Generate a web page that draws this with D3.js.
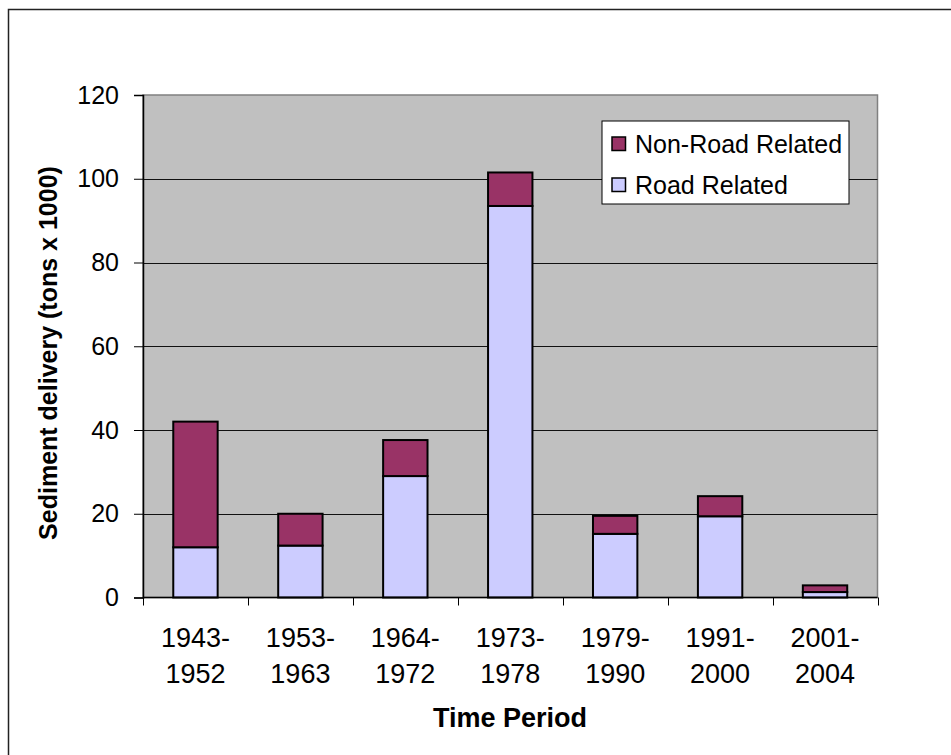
<!DOCTYPE html>
<html>
<head>
<meta charset="utf-8">
<script src="https://cdn.jsdelivr.net/npm/d3@7"></script>
<style>
  html, body { margin: 0; padding: 0; background: #fff; }
  svg { display: block; }
  text { font-family: "Liberation Sans", Arial, sans-serif; fill: #000; }
</style>
</head>
<body>
<svg id="chart" width="951" height="755"></svg>
<script>
// ---- data ----
const categories = [["1943-", "1952"], ["1953-", "1963"], ["1964-", "1972"], ["1973-", "1978"], ["1979-", "1990"], ["1991-", "2000"], ["2001-", "2004"]];
const roadRelated    = [12, 12.4, 29, 93.5, 15.2, 19.4, 1.3];
const nonRoadRelated = [30, 7.6, 8.6, 8, 4.3, 4.8, 1.6];
const yTicks = [0, 20, 40, 60, 80, 100, 120];
const seriesNames = ["Non-Road Related", "Road Related"];
const seriesColors = { "Road Related": "#CCCCFF", "Non-Road Related": "#993366" };

// ---- layout ----
const svg = d3.select("#chart");
const plot = { left: 143, right: 877.5, top: 95, bottom: 597.5 };

// outer border
svg.append("rect")
  .attr("x", 8.5).attr("y", 9.5)
  .attr("width", 1000).attr("height", 1000)
  .attr("fill", "none").attr("stroke", "#222").attr("stroke-width", 1.5);

const keys = categories.map(c => c.join(""));
const x = d3.scaleBand().domain(keys).range([plot.left, plot.right])
  .paddingInner(0.577).paddingOuter(0.577 / 2);
const y = d3.scaleLinear().domain([0, 120]).range([plot.bottom, plot.top]);

// plot background
svg.append("rect")
  .attr("x", plot.left).attr("y", plot.top)
  .attr("width", plot.right - plot.left).attr("height", plot.bottom - plot.top)
  .attr("fill", "#C0C0C0").attr("stroke", "#808080").attr("stroke-width", 1.5);

// gridlines
svg.append("g").selectAll("line")
  .data(yTicks.filter(t => t > 0 && t < 120))
  .join("line")
  .attr("x1", plot.left).attr("x2", plot.right)
  .attr("y1", d => Math.round(y(d)) + 0.5).attr("y2", d => Math.round(y(d)) + 0.5)
  .attr("stroke", "#111").attr("stroke-width", 1);

// stacked data
const rows = keys.map((k, i) => ({ key: k, "Road Related": roadRelated[i], "Non-Road Related": nonRoadRelated[i] }));
const stack = d3.stack().keys(["Road Related", "Non-Road Related"])(rows);

svg.append("g").selectAll("g")
  .data(stack)
  .join("g")
  .attr("fill", d => seriesColors[d.key])
  .selectAll("rect")
  .data(d => d)
  .join("rect")
  .attr("x", d => x(d.data.key))
  .attr("width", x.bandwidth())
  .attr("y", d => y(d[1]))
  .attr("height", d => y(d[0]) - y(d[1]))
  .attr("stroke", "#000").attr("stroke-width", 2);

// y axis
const yAxis = d3.axisLeft(y).tickValues(yTicks).tickSize(9).tickPadding(15).tickFormat(d3.format("d"));
const gy = svg.append("g").attr("transform", `translate(${plot.left},0)`).call(yAxis);
gy.select(".domain").attr("stroke", "#000").attr("stroke-width", 1.5);
gy.selectAll(".tick line").attr("stroke", "#000").attr("stroke-width", 1);
gy.selectAll(".tick text").attr("font-size", 25).attr("font-family", "'Liberation Sans', Arial, sans-serif").attr("fill", "#000");

// x axis line and ticks at band boundaries
svg.append("line")
  .attr("x1", plot.left).attr("x2", plot.right)
  .attr("y1", plot.bottom).attr("y2", plot.bottom)
  .attr("stroke", "#000").attr("stroke-width", 1.5);
const boundaries = keys.map(k => x(k) - x.step() * x.paddingInner() / 2).concat([plot.right]);
svg.append("g").selectAll("line")
  .data(boundaries)
  .join("line")
  .attr("x1", d => Math.round(d) + 0.5).attr("x2", d => Math.round(d) + 0.5)
  .attr("y1", plot.bottom).attr("y2", plot.bottom + 8)
  .attr("stroke", "#000").attr("stroke-width", 1);

// x labels
const xl = svg.append("g").selectAll("text")
  .data(categories)
  .join("text")
  .attr("x", (d, i) => x(keys[i]) + x.bandwidth() / 2)
  .attr("text-anchor", "middle")
  .attr("font-size", 27);
xl.append("tspan").attr("x", (d, i) => x(keys[i]) + x.bandwidth() / 2).attr("y", 647).text(d => d[0]);
xl.append("tspan").attr("x", (d, i) => x(keys[i]) + x.bandwidth() / 2).attr("y", 683).text(d => d[1]);

// axis titles
svg.append("text")
  .attr("x", 510).attr("y", 727)
  .attr("text-anchor", "middle").attr("font-size", 27).attr("font-weight", "bold")
  .text("Time Period");
svg.append("text")
  .attr("transform", `translate(57,353) rotate(-90)`)
  .attr("text-anchor", "middle").attr("font-size", 25).attr("font-weight", "bold")
  .text("Sediment delivery (tons x 1000)");

// legend
const lg = svg.append("g");
lg.append("rect").attr("x", 602).attr("y", 121).attr("width", 247).attr("height", 83)
  .attr("fill", "#fff").attr("stroke", "#000").attr("stroke-width", 1);
seriesNames.forEach((name, i) => {
  const yy = 137 + i * 41;
  lg.append("rect").attr("x", 612).attr("y", yy).attr("width", 13.5).attr("height", 13.5)
    .attr("fill", seriesColors[name]).attr("stroke", "#000").attr("stroke-width", 1.5);
  lg.append("text").attr("x", 635).attr("y", yy + 16).attr("font-size", 25).text(name);
});
</script>
</body>
</html>
